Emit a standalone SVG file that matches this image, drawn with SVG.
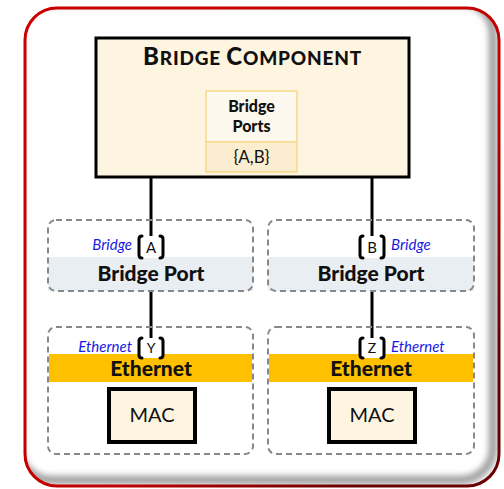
<svg xmlns="http://www.w3.org/2000/svg" width="504" height="489" viewBox="0 0 504 489">
<defs>
<style>
.t{font-family:Lato,"Liberation Sans",sans-serif;fill:#111}
.b{font-weight:900}
.blue{font-family:Lato,"Liberation Sans",sans-serif;font-style:italic;fill:#1a1ae6;font-size:15px}
.dash{fill:none;stroke:#888;stroke-width:2;stroke-dasharray:6 4}
.conn{stroke:#000;stroke-width:3;fill:none}
.brk{fill:none;stroke:#000;stroke-width:3;stroke-linecap:round}
.mac{fill:#fdf5e2;stroke:#000;stroke-width:4}
</style>
<linearGradient id="frameG" x1="0" y1="0" x2="1" y2="1">
<stop offset="0" stop-color="#cc0000"/>
<stop offset="0.6" stop-color="#c00000"/>
<stop offset="0.85" stop-color="#6a0000"/>
</linearGradient>
<clipPath id="frameClip"><rect x="25" y="8" width="474" height="478" rx="32"/></clipPath>
<filter id="blur" x="-10%" y="-10%" width="120%" height="120%"><feGaussianBlur stdDeviation="3"/></filter>
</defs>
<g id="frame">
<rect x="25" y="8" width="474" height="478" rx="32" fill="#fff"/>
<g clip-path="url(#frameClip)">
<rect x="19" y="2" width="474" height="478" rx="32" fill="none" stroke="#999" stroke-width="8" filter="url(#blur)"/>
</g>
<rect x="25" y="8" width="474" height="478" rx="32" fill="none" stroke="url(#frameG)" stroke-width="3"/>
</g>
<g id="connectors">
<line class="conn" x1="151" y1="177" x2="151" y2="345"/>
<line class="conn" x1="372" y1="177" x2="372" y2="345"/>
</g>
<g id="bridge-component">
<rect x="96" y="38" width="313" height="139" fill="#fdf5e0" stroke="#000" stroke-width="3"/>
<text class="t b" x="252.5" y="65" text-anchor="middle" letter-spacing="0.8"><tspan font-size="24">B</tspan><tspan font-size="19">RIDGE </tspan><tspan font-size="24">C</tspan><tspan font-size="19">OMPONENT</tspan></text>
<g id="bridge-ports">
<rect x="206" y="91" width="91" height="51" fill="#fdf8ee" stroke="#f6d98a" stroke-width="1.5"/>
<rect x="206" y="142" width="91" height="30" fill="#fbedd0" stroke="#f6d98a" stroke-width="1.5"/>
<text class="t b" x="251.5" y="112" text-anchor="middle" font-size="16">Bridge</text>
<text class="t b" x="251.5" y="132" text-anchor="middle" font-size="16">Ports</text>
<text class="t" x="251.5" y="163" text-anchor="middle" font-size="17">{A,B}</text>
</g>
</g>
<g id="bridge-port-A">
<rect x="48" y="257" width="205" height="34" fill="#e9eef3"/>
<rect class="dash" x="48" y="220" width="205" height="71" rx="8"/>
<text class="t b" x="151" y="281" text-anchor="middle" font-size="21">Bridge Port</text>
<text class="blue" x="132" y="250" text-anchor="end">Bridge</text>
<rect x="139" y="236" width="24" height="22" fill="#fff"/>
<path class="brk" d="M142,236 Q139,236 139,239 V255 Q139,258 142,258 M160,236 Q163,236 163,239 V255 Q163,258 160,258"/>
<text class="t" x="151" y="253" text-anchor="middle" font-size="15">A</text>
</g>
<g id="bridge-port-B">
<rect x="268" y="257" width="206" height="34" fill="#e9eef3"/>
<rect class="dash" x="268" y="220" width="206" height="71" rx="8"/>
<text class="t b" x="371" y="281" text-anchor="middle" font-size="21">Bridge Port</text>
<text class="blue" x="391" y="250">Bridge</text>
<rect x="360" y="236" width="24" height="22" fill="#fff"/>
<path class="brk" d="M363,236 Q360,236 360,239 V255 Q360,258 363,258 M381,236 Q384,236 384,239 V255 Q384,258 381,258"/>
<text class="t" x="372" y="253" text-anchor="middle" font-size="15">B</text>
</g>
<g id="ethernet-Y">
<rect x="49" y="354" width="203" height="28" fill="#ffc000"/>
<rect class="dash" x="48" y="327" width="205" height="127" rx="8"/>
<text class="t b" x="151" y="376" text-anchor="middle" font-size="21">Ethernet</text>
<text class="blue" x="132" y="352" text-anchor="end">Ethernet</text>
<rect x="139" y="338" width="24" height="20" fill="#fff"/>
<path class="brk" d="M142,338 Q139,338 139,341 V355 Q139,358 142,358 M160,338 Q163,338 163,341 V355 Q163,358 160,358"/>
<text class="t" x="151" y="353" text-anchor="middle" font-size="14">Y</text>
<rect class="mac" x="109" y="389" width="86" height="53"/>
<text class="t" x="152" y="422" text-anchor="middle" font-size="20">MAC</text>
</g>
<g id="ethernet-Z">
<rect x="269" y="354" width="204" height="28" fill="#ffc000"/>
<rect class="dash" x="268" y="327" width="206" height="127" rx="8"/>
<text class="t b" x="371" y="376" text-anchor="middle" font-size="21">Ethernet</text>
<text class="blue" x="391" y="352">Ethernet</text>
<rect x="360" y="338" width="24" height="20" fill="#fff"/>
<path class="brk" d="M363,338 Q360,338 360,341 V355 Q360,358 363,358 M381,338 Q384,338 384,341 V355 Q384,358 381,358"/>
<text class="t" x="372" y="353" text-anchor="middle" font-size="14">Z</text>
<rect class="mac" x="329" y="389" width="86" height="53"/>
<text class="t" x="372" y="422" text-anchor="middle" font-size="20">MAC</text>
</g>
</svg>
